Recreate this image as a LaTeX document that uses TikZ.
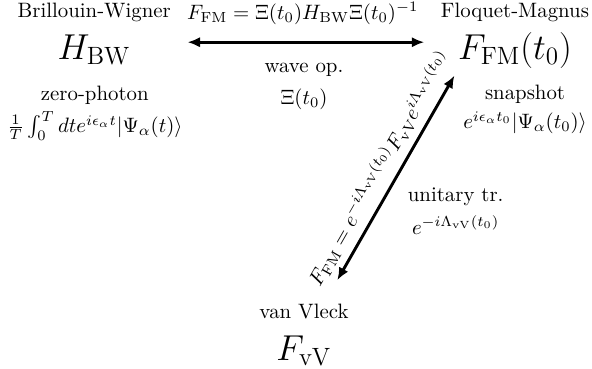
\documentclass[tikz,border=0pt]{standalone}
\usetikzlibrary{arrows.meta}

\begin{document}
\begin{tikzpicture}[>={Latex[length=6pt,width=5pt]},
    frame/.style={align=center, anchor=base, font=\fontsize{10}{20}\selectfont},
    info/.style={align=center},
    conv/.style={<->, line width=1.4pt}]
  \useasboundingbox (0,0) rectangle (9.99,6.22);
  % the three pictures
  \node[frame] (BW) at (1.59,5.22) {Brillouin-Wigner\\ \LARGE $H_{\rm BW}$};
  \node[frame] (FM) at (8.69,5.22) {Floquet-Magnus\\ \LARGE $F_{\rm FM}(t_0)$};
  \node[frame] (vV) at (5.13,0.14) {van Vleck\\ \LARGE $F_{\rm vV}$};
  % states in each picture
  \node[info] (zp) at (1.60,4.31) {zero-photon\\[2pt] $\frac{1}{T}\int_0^T dt e^{i\epsilon_\alpha t}|\Psi_\alpha(t)\rangle$};
  \node[info] (snap) at (8.86,4.37) {snapshot\\[2pt] $e^{i\epsilon_\alpha t_0}|\Psi_\alpha(t_0)\rangle$};
  % transformations
  \draw[conv, shorten <=4.5pt, shorten >=4.5pt]
    ([yshift=-4pt]BW.east) -- ([yshift=-4pt]BW.east -| FM.west);
  \node (rel) at (5.11,5.99) {$F_{\rm FM} = \Xi(t_0) H_{\rm BW} \Xi(t_0)^{-1}$};
  \node[info] (wave) at (5.13,4.76) {wave op.\\[3pt] $\Xi(t_0)$};
  \draw[conv] ([xshift=16pt,yshift=8pt]vV.north) -- ([xshift=10pt]FM.south west)
    node[midway, sloped, above] (relvV) {$F_{\rm FM} = e^{-i\Lambda_{\rm vV}(t_0)} F_{\rm vV} e^{i\Lambda_{\rm vV}(t_0)}$};
  \node[info] (unit) at (7.69,2.66) {unitary tr.\\[4pt] $e^{-i\Lambda_{\rm vV}(t_0)}$};
\end{tikzpicture}
\end{document}
